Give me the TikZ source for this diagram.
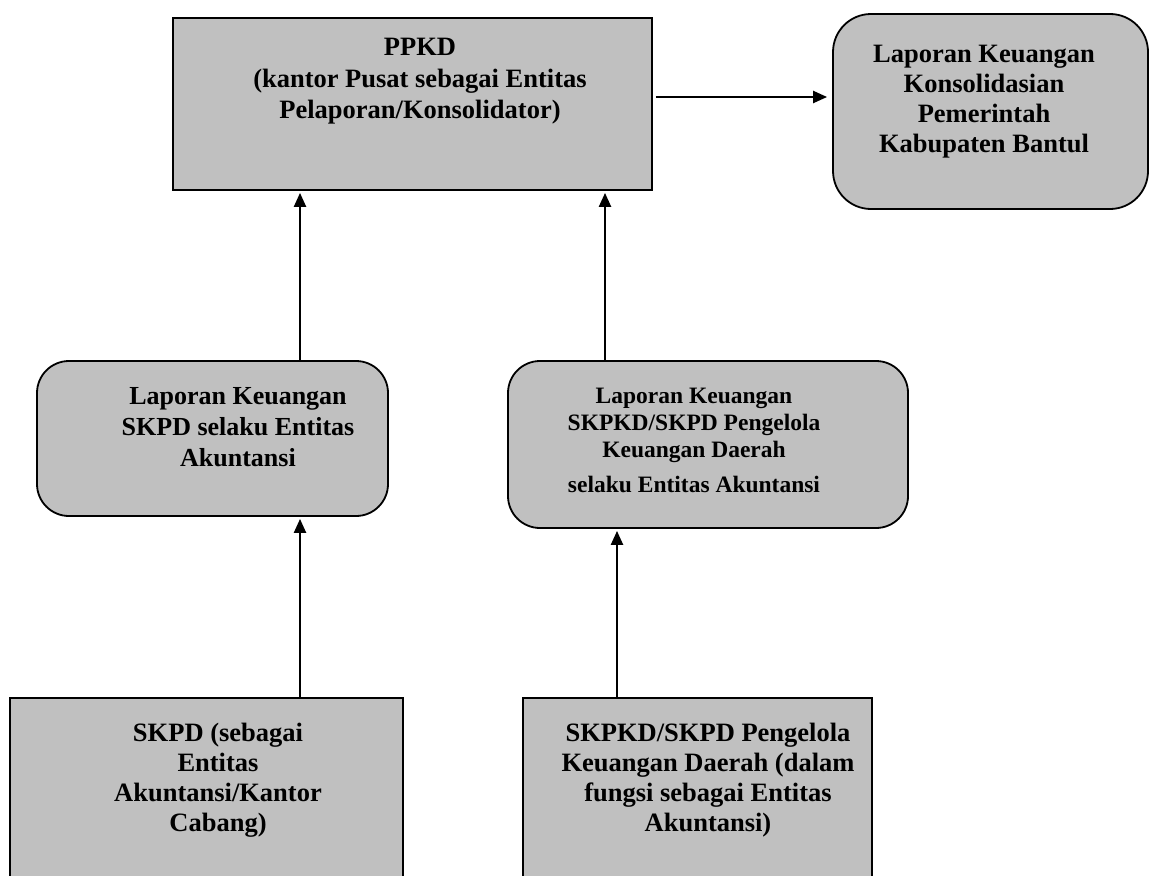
\documentclass[tikz,border=0pt]{standalone}
\usepackage{fontspec}
\setmainfont{Liberation Serif}
\usetikzlibrary{arrows.meta}
\definecolor{boxgray}{HTML}{C0C0C0}
\tikzset{
  sqbox/.style={draw=black, fill=boxgray, line width=1.8pt, inner sep=0pt},
  rndbox/.style={sqbox, rounded corners=32pt},
  txt/.style={align=center, inner sep=0pt, anchor=north, font=\bfseries},
  arr/.style={line width=2.2pt, -{Triangle[length=14pt,width=12pt]}}
}
\begin{document}
\begin{tikzpicture}[x=1pt,y=-1pt]
\useasboundingbox (0,0) rectangle (1150,875);
\clip (0,0) rectangle (1150,875);
% boxes
\node[sqbox, minimum width=479pt, minimum height=172pt] (ppkd) at (412.5,104) {};
\node[rndbox, rounded corners=38pt, minimum width=315pt, minimum height=195pt] (lkk) at (990.5,111.5) {};
\node[rndbox, minimum width=351pt, minimum height=155pt] (mleft) at (212.5,438.5) {};
\node[rndbox, minimum width=400pt, minimum height=167pt] (mright) at (708,444.5) {};
\node[sqbox, minimum width=393pt, minimum height=200pt] (bleft) at (206.5,798) {};
\node[sqbox, minimum width=349pt, minimum height=200pt] (bright) at (697.5,798) {};
% texts
\node[txt, font=\bfseries\fontsize{26.5}{31.5}\selectfont] (tppkd) at (420,38)
  {PPKD\\(kantor Pusat sebagai Entitas\\Pelaporan/Konsolidator)};
\node[txt, font=\bfseries\fontsize{26.5}{30}\selectfont] (tlkk) at (984,45)
  {Laporan Keuangan\\Konsolidasian\\Pemerintah\\Kabupaten Bantul};
\node[txt, font=\bfseries\fontsize{26}{31}\selectfont] (tmleft) at (238,387)
  {Laporan Keuangan\\SKPD selaku Entitas\\Akuntansi};
\node[txt, font=\bfseries\fontsize{23.5}{27}\selectfont] (tmright) at (694,388)
  {Laporan Keuangan\\SKPKD/SKPD Pengelola\\Keuangan Daerah\\[8pt]selaku Entitas Akuntansi};
\node[txt, font=\bfseries\fontsize{26.5}{30}\selectfont] (tbleft) at (218,723)
  {SKPD (sebagai\\Entitas\\Akuntansi/Kantor\\Cabang)};
\node[txt, font=\bfseries\fontsize{26.5}{30}\selectfont] (tbright) at (708,723)
  {SKPKD/SKPD Pengelola\\Keuangan Daerah (dalam\\fungsi sebagai Entitas\\Akuntansi)};
% arrow columns
\coordinate (cA) at (300,0);
\coordinate (cB) at (605,0);
\coordinate (cC) at (617,0);
\coordinate (rowH) at (0,97);
% connectors
\draw[arr] ([xshift=3pt]ppkd.east |- rowH) -- ([xshift=-5pt]lkk.west |- rowH);
\draw[arr] (mleft.north -| cA) -- ([yshift=-2pt]ppkd.south -| cA);
\draw[arr] (mright.north -| cB) -- ([yshift=-2pt]ppkd.south -| cB);
\draw[arr] (bleft.north -| cA) -- ([yshift=-2pt]mleft.south -| cA);
\draw[arr] (bright.north -| cC) -- ([yshift=-2pt]mright.south -| cC);
\end{tikzpicture}
\end{document}
